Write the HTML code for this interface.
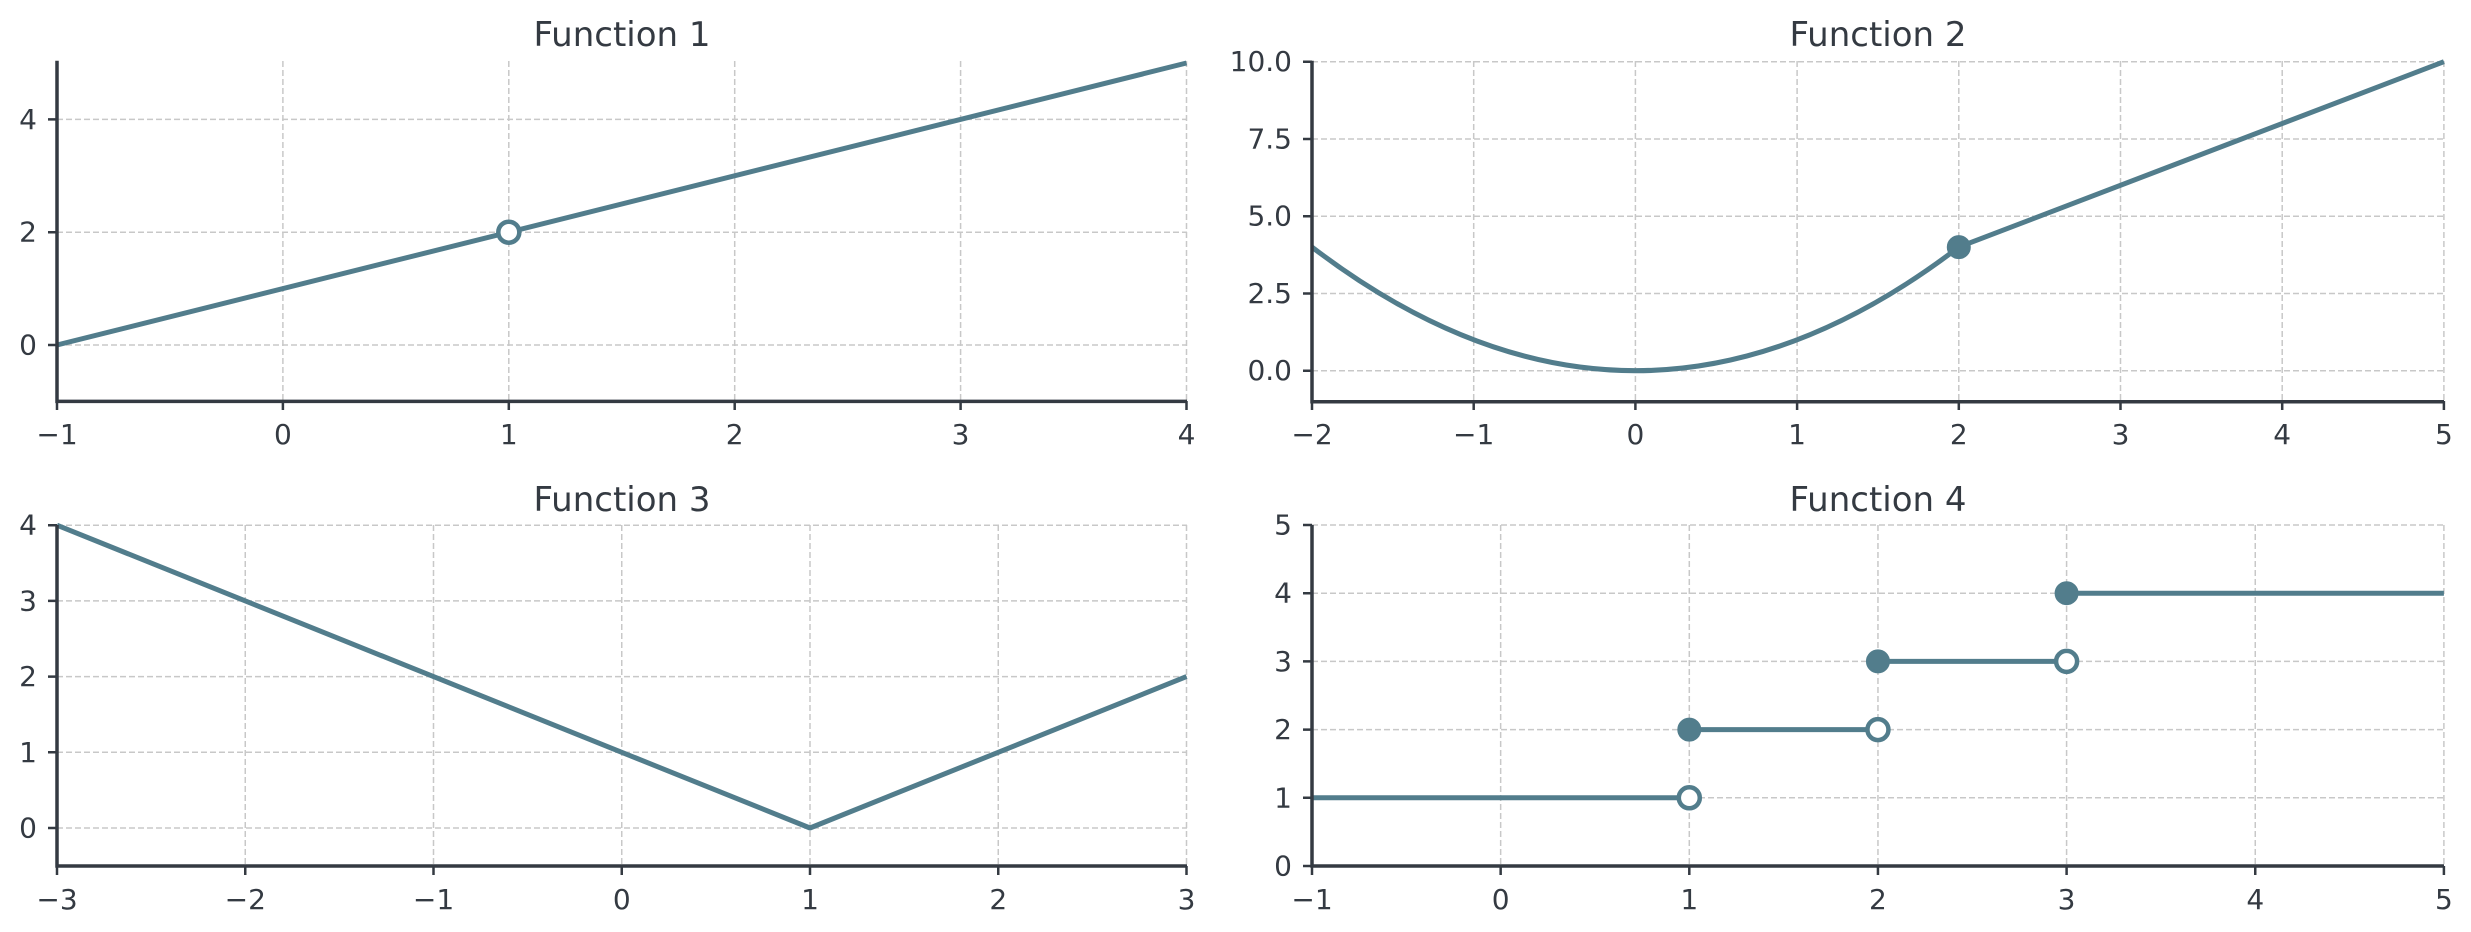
<!DOCTYPE html>
<html><head><meta charset="utf-8"><style>
html,body{margin:0;padding:0;background:#fff;}
svg{display:block;}
text{font-family:"DejaVu Sans","Liberation Sans",sans-serif;fill:#343a42;}
.t{font-size:28px;}
.ti{font-size:34px;text-anchor:middle;}
.xl{text-anchor:middle;}
.yl{text-anchor:end;dominant-baseline:central;}
.g{stroke:#c8c8c8;stroke-width:1.5;stroke-dasharray:6,3;fill:none;}
.sp{stroke:#343a42;stroke-width:3.5;fill:none;}
.tk{stroke:#343a42;stroke-width:2.5;}
.ln{stroke:#527d8c;stroke-width:5;fill:none;stroke-linejoin:round;}
.mf{fill:#527d8c;stroke:#527d8c;stroke-width:3;}
.mo{fill:#fff;stroke:#527d8c;stroke-width:4.5;}
</style></head><body>
<svg width="2471" height="932" viewBox="0 0 2471 932" xmlns="http://www.w3.org/2000/svg">
<!-- Panel 1 -->
<text class="ti" x="622" y="46">Function 1</text>
<g class="g">
<path d="M282.9 61V401M508.8 61V401M734.7 61V401M960.6 61V401M1186.5 61V401"/>
<path d="M57 345H1187M57 232.2H1187M57 119.4H1187"/>
</g>
<path class="ln" d="M57 345L1186.5 63"/>
<circle class="mo" cx="508.8" cy="232.2" r="10.5"/>
<path class="sp" d="M57 60.7V401.4H1187"/>
<g class="tk"><path d="M57 401V410M282.9 401V410M508.8 401V410M734.7 401V410M960.6 401V410M1186.5 401V410M48 345H57M48 232.2H57M48 119.4H57"/></g>
<g class="t">
<text class="xl" x="57" y="444">−1</text><text class="xl" x="282.9" y="444">0</text><text class="xl" x="508.8" y="444">1</text><text class="xl" x="734.7" y="444">2</text><text class="xl" x="960.6" y="444">3</text><text class="xl" x="1186.5" y="444">4</text>
<text class="yl" x="37" y="345">0</text><text class="yl" x="37" y="232.2">2</text><text class="yl" x="37" y="119.4">4</text>
</g>

<!-- Panel 2 -->
<text class="ti" x="1878" y="46">Function 2</text>
<g class="g">
<path d="M1473.7 61V401M1635.4 61V401M1797.1 61V401M1958.8 61V401M2120.5 61V401M2282.2 61V401M2443.9 61V401"/>
<path d="M1312 370.7H2444M1312 293.5H2444M1312 216.2H2444M1312 139H2444M1312 61.7H2444"/>
</g>
<path class="ln" d="M1312 247.1Q1635.4 494.3 1958.8 247.1L2443.9 61.7"/>
<circle class="mf" cx="1958.8" cy="247.1" r="10.5"/>
<path class="sp" d="M1312 60.7V401.7H2444"/>
<g class="tk"><path d="M1312 401V410M1473.7 401V410M1635.4 401V410M1797.1 401V410M1958.8 401V410M2120.5 401V410M2282.2 401V410M2443.9 401V410M1303 370.7H1312M1303 293.5H1312M1303 216.2H1312M1303 139H1312M1303 61.7H1312"/></g>
<g class="t">
<text class="xl" x="1312" y="444">−2</text><text class="xl" x="1473.7" y="444">−1</text><text class="xl" x="1635.4" y="444">0</text><text class="xl" x="1797.1" y="444">1</text><text class="xl" x="1958.8" y="444">2</text><text class="xl" x="2120.5" y="444">3</text><text class="xl" x="2282.2" y="444">4</text><text class="xl" x="2443.9" y="444">5</text>
<text class="yl" x="1292" y="370.7">0.0</text><text class="yl" x="1292" y="293.5">2.5</text><text class="yl" x="1292" y="216.2">5.0</text><text class="yl" x="1292" y="139">7.5</text><text class="yl" x="1292" y="61.7">10.0</text>
</g>

<!-- Panel 3 -->
<text class="ti" x="622" y="511">Function 3</text>
<g class="g">
<path d="M245.25 525V866M433.5 525V866M621.75 525V866M810 525V866M998.25 525V866M1186.5 525V866"/>
<path d="M57 828H1187M57 752.3H1187M57 676.6H1187M57 600.9H1187M57 525.2H1187"/>
</g>
<path class="ln" d="M57 525.2L810 828L1186.5 676.6"/>
<path class="sp" d="M57 525V866H1187"/>
<g class="tk"><path d="M57 866V875M245.25 866V875M433.5 866V875M621.75 866V875M810 866V875M998.25 866V875M1186.5 866V875M48 828H57M48 752.3H57M48 676.6H57M48 600.9H57M48 525.2H57"/></g>
<g class="t">
<text class="xl" x="57" y="909">−3</text><text class="xl" x="245.25" y="909">−2</text><text class="xl" x="433.5" y="909">−1</text><text class="xl" x="621.75" y="909">0</text><text class="xl" x="810" y="909">1</text><text class="xl" x="998.25" y="909">2</text><text class="xl" x="1186.5" y="909">3</text>
<text class="yl" x="37" y="828">0</text><text class="yl" x="37" y="752.3">1</text><text class="yl" x="37" y="676.6">2</text><text class="yl" x="37" y="600.9">3</text><text class="yl" x="37" y="525.2">4</text>
</g>

<!-- Panel 4 -->
<text class="ti" x="1878" y="511">Function 4</text>
<g class="g">
<path d="M1500.65 525V866M1689.3 525V866M1877.95 525V866M2066.6 525V866M2255.25 525V866M2443.9 525V866"/>
<path d="M1312 797.8H2444M1312 729.6H2444M1312 661.4H2444M1312 593.2H2444M1312 525H2444"/>
</g>
<path class="ln" d="M1312 797.8H1689.3M1689.3 729.6H1877.95M1877.95 661.4H2066.6M2066.6 593.2H2443.9"/>
<circle class="mf" cx="1689.3" cy="729.6" r="10.5"/>
<circle class="mf" cx="1877.95" cy="661.4" r="10.5"/>
<circle class="mf" cx="2066.6" cy="593.2" r="10.5"/>
<circle class="mo" cx="1689.3" cy="797.8" r="10.5"/>
<circle class="mo" cx="1877.95" cy="729.6" r="10.5"/>
<circle class="mo" cx="2066.6" cy="661.4" r="10.5"/>
<path class="sp" d="M1312 525V866H2444"/>
<g class="tk"><path d="M1312 866V875M1500.65 866V875M1689.3 866V875M1877.95 866V875M2066.6 866V875M2255.25 866V875M2443.9 866V875M1303 866H1312M1303 797.8H1312M1303 729.6H1312M1303 661.4H1312M1303 593.2H1312M1303 525H1312"/></g>
<g class="t">
<text class="xl" x="1312" y="909">−1</text><text class="xl" x="1500.65" y="909">0</text><text class="xl" x="1689.3" y="909">1</text><text class="xl" x="1877.95" y="909">2</text><text class="xl" x="2066.6" y="909">3</text><text class="xl" x="2255.25" y="909">4</text><text class="xl" x="2443.9" y="909">5</text>
<text class="yl" x="1292" y="866">0</text><text class="yl" x="1292" y="797.8">1</text><text class="yl" x="1292" y="729.6">2</text><text class="yl" x="1292" y="661.4">3</text><text class="yl" x="1292" y="593.2">4</text><text class="yl" x="1292" y="525">5</text>
</g>
</svg>
</body></html>
